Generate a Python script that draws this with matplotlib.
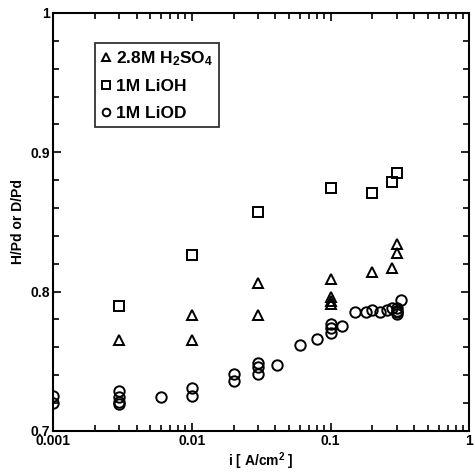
import matplotlib.pyplot as plt
from matplotlib.ticker import LogLocator, MultipleLocator, FixedFormatter, FixedLocator, NullFormatter

plt.rcParams['font.family'] = ['Liberation Sans', 'DejaVu Sans']
plt.rcParams['mathtext.fontset'] = 'custom'
plt.rcParams['mathtext.rm'] = 'Liberation Sans:bold'
plt.rcParams['mathtext.it'] = 'Liberation Sans:bold'
plt.rcParams['mathtext.bf'] = 'Liberation Sans:bold'

# 2.8M H2SO4 (triangles)
h2so4_i = [0.003, 0.01, 0.01, 0.03, 0.03, 0.1, 0.1, 0.1, 0.1, 0.2, 0.275, 0.3, 0.3]
h2so4_y = [0.765, 0.765, 0.783, 0.783, 0.806, 0.809, 0.796, 0.793, 0.791, 0.814, 0.817, 0.828, 0.834]

# 1M LiOH (squares)
lioh_i = [0.003, 0.01, 0.03, 0.1, 0.2, 0.275, 0.3]
lioh_y = [0.790, 0.826, 0.857, 0.874, 0.871, 0.879, 0.885]

# 1M LiOD (circles)
liod_i = [0.001, 0.001, 0.003, 0.003, 0.003, 0.003, 0.006, 0.01, 0.01,
          0.02, 0.02, 0.03, 0.03, 0.03, 0.041, 0.06, 0.08, 0.1, 0.1, 0.1,
          0.12, 0.15, 0.18, 0.2, 0.225, 0.253, 0.275, 0.3, 0.3, 0.3, 0.3, 0.32]
liod_y = [0.725, 0.720, 0.729, 0.724, 0.721, 0.719, 0.724, 0.731, 0.725,
          0.741, 0.736, 0.749, 0.746, 0.741, 0.747, 0.762, 0.766, 0.777, 0.774, 0.770,
          0.775, 0.785, 0.785, 0.787, 0.785, 0.787, 0.788, 0.788, 0.786, 0.785, 0.784, 0.794]

fig = plt.figure(figsize=(4.75, 4.73), dpi=100)
ax = fig.add_axes([0.1116, 0.089, 0.8768, 0.8836])

mk = dict(linestyle='none', markerfacecolor='none', markeredgecolor='black',
          markeredgewidth=1.4, color='black')
ax.plot(h2so4_i, h2so4_y, marker='^', markersize=6.5, label='2.8M H$_2$SO$_4$', **mk)
ax.plot(lioh_i, lioh_y, marker='s', markersize=7, label='1M LiOH', **mk)
ax.plot(liod_i, liod_y, marker='o', markersize=7.5, label='1M LiOD', **mk)

ax.set_xscale('log')
ax.set_xlim(0.001, 1)
ax.set_ylim(0.7, 1.0)

ax.xaxis.set_major_locator(FixedLocator([0.001, 0.01, 0.1, 1]))
ax.xaxis.set_major_formatter(FixedFormatter(['0.001', '0.01', '0.1', '1']))
ax.xaxis.set_minor_locator(LogLocator(base=10, subs=range(2, 10)))
ax.xaxis.set_minor_formatter(NullFormatter())
ax.yaxis.set_major_locator(FixedLocator([0.7, 0.8, 0.9, 1.0]))
ax.yaxis.set_major_formatter(FixedFormatter(['0.7', '0.8', '0.9', '1']))
ax.yaxis.set_minor_locator(MultipleLocator(0.02))

ax.tick_params(which='both', direction='in', top=True, right=True, width=1.2)
ax.tick_params(which='major', length=6, labelsize=10, pad=2)
ax.tick_params(which='minor', length=4)
for lbl in ax.get_xticklabels() + ax.get_yticklabels():
    lbl.set_fontweight('bold')
for s in ax.spines.values():
    s.set_linewidth(1.5)

ax.set_xlabel('i [ A/cm$^2$ ]', fontsize=10, fontweight='bold', labelpad=2)
ax.set_ylabel('H/Pd or D/Pd', fontsize=10, fontweight='bold', labelpad=4)

leg = ax.legend(loc='upper left', bbox_to_anchor=(0.101, 0.928), borderaxespad=0,
                frameon=True, fancybox=False, edgecolor='black', handlelength=0.6,
                handletextpad=0.25, borderpad=0.35, labelspacing=0.65,
                prop={'size': 12.5, 'weight': 'bold'})
leg.get_frame().set_linewidth(1.3)
for h in leg.legend_handles:
    h.set_markersize(5.5)

fig.savefig('out.png', dpi=100)
